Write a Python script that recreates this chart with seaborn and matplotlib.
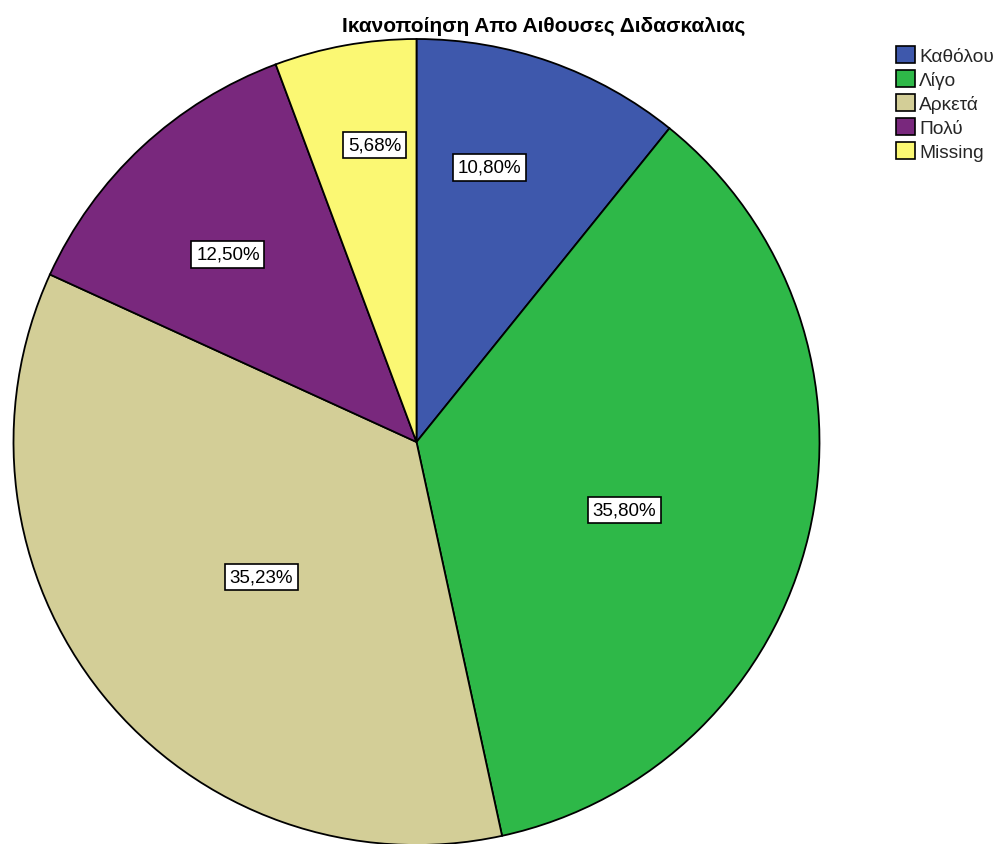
import numpy as np
import matplotlib
matplotlib.use("Agg")
import matplotlib.pyplot as plt
from matplotlib.patches import Patch
import seaborn as sns

# Survey answers: satisfaction with the teaching rooms
categories = ["Καθόλου", "Λίγο", "Αρκετά", "Πολύ", "Missing"]
percentages = [10.80, 35.80, 35.23, 12.50, 5.68]
slice_colors = ["#3E58AC", "#2EB848", "#D3CE97", "#79287D", "#FBF873"]
title_text = "Ικανοποίηση Απο Αιθουσες Διδασκαλιας"

# placement of each percentage box: fraction of the radius and
# angular shift (degrees) from the wedge's middle
label_radius = [0.705, 0.543, 0.511, 0.66, 0.744]
label_shift = [4.5, -4.8, 2.2, 2.2, -2.2]

sns.set_theme(style="white")
plt.rcParams["font.family"] = ["Liberation Sans", "DejaVu Sans"]
palette = sns.color_palette(slice_colors)

W, H = 997, 845
fig = plt.figure(figsize=(W / 100, H / 100), dpi=100)

cx, cy, r = 416.5, 443.0, 403.0
ax = fig.add_axes([(cx - r) / W, (H - cy - r) / H, 2 * r / W, 2 * r / H])

wedges, _ = ax.pie(
    percentages,
    colors=palette,
    startangle=90,
    counterclock=False,
    radius=1.0,
    wedgeprops=dict(edgecolor="black", linewidth=1.3),
)
ax.set_xlim(-1, 1)
ax.set_ylim(-1, 1)
ax.set_aspect("equal")
ax.axis("off")

for w, pct, rf, sh in zip(wedges, percentages, label_radius, label_shift):
    mid = np.deg2rad((w.theta1 + w.theta2) / 2 + sh)
    ax.text(
        rf * np.cos(mid), rf * np.sin(mid),
        f"{pct:.2f}%".replace(".", ","),
        ha="center", va="center", fontsize=13.5, color="black",
        bbox=dict(boxstyle="square,pad=0.25", facecolor="white",
                  edgecolor="black", linewidth=1.2),
    )

fig.text(544 / W, 1 - 26 / H, title_text, ha="center", va="center",
         fontsize=15, fontweight="bold", color="black")

handles = [Patch(facecolor=c, edgecolor="black", linewidth=1.2) for c in palette]
fig.legend(
    handles, categories,
    loc="upper left", bbox_to_anchor=(896 / W, 1 - 47 / H),
    frameon=False, fontsize=13.8,
    handlelength=1.0, handleheight=1.0, handletextpad=0.2,
    labelspacing=0.25, borderpad=0, borderaxespad=0,
)

fig.savefig("out.png", dpi=100, facecolor="white")
